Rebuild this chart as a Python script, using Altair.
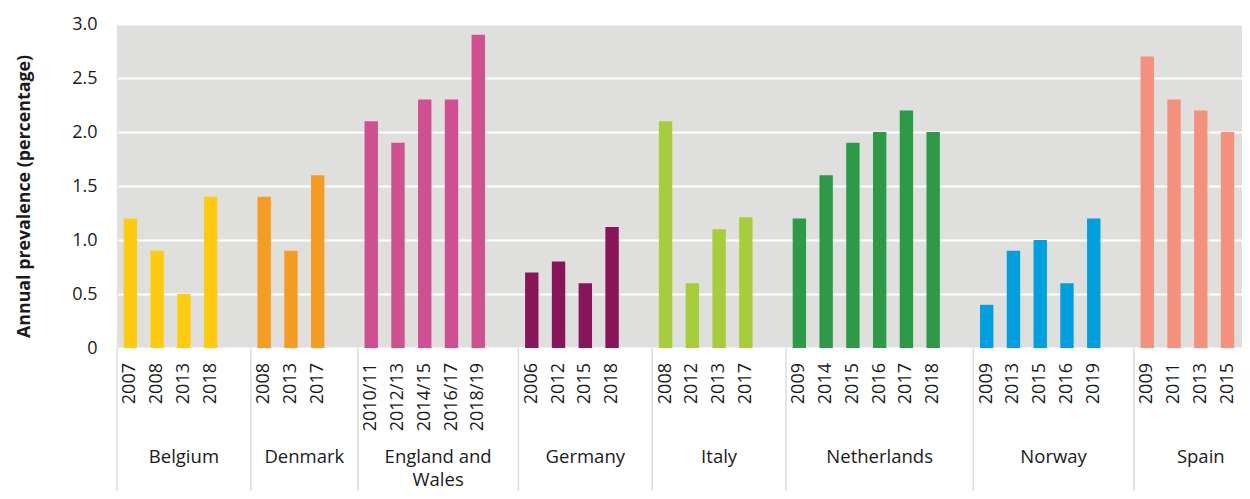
import altair as alt
import pandas as pd

countries = ["Belgium", "Denmark", "England and Wales", "Germany", "Italy",
             "Netherlands", "Norway", "Spain"]
country_labels = ["Belgium", "Denmark", "England and\nWales", "Germany", "Italy",
                  "Netherlands", "Norway", "Spain"]
years = [
    ["2007", "2008", "2013", "2018"],
    ["2008", "2013", "2017"],
    ["2010/11", "2012/13", "2014/15", "2016/17", "2018/19"],
    ["2006", "2012", "2015", "2018"],
    ["2008", "2012", "2013", "2017"],
    ["2009", "2014", "2015", "2016", "2017", "2018"],
    ["2009", "2013", "2015", "2016", "2019"],
    ["2009", "2011", "2013", "2015", "2017"],
]
values = [
    [1.2, 0.9, 0.5, 1.4],
    [1.4, 0.9, 1.6],
    [2.1, 1.9, 2.3, 2.3, 2.9],
    [0.7, 0.8, 0.6, 1.12],
    [2.1, 0.6, 1.1, 1.21],
    [1.2, 1.6, 1.9, 2.0, 2.2, 2.0],
    [0.4, 0.9, 1.0, 0.6, 1.2],
    [2.7, 2.3, 2.2, 2.0, 2.2],
]
colors = ["#fecb0f", "#f59c22", "#d04f91", "#88155a", "#a7cd3b",
          "#2d9a47", "#009fdf", "#f4907b"]
y_ticks = [0, 0.5, 1.0, 1.5, 2.0, 2.5, 3.0]

# build tables: one slot per bar, plus one empty slot after each group
bar_rows, group_rows = [], []
slot = 0
for gi, (c, lab, ys, vs) in enumerate(zip(countries, country_labels, years, values)):
    start = slot
    for y, v in zip(ys, vs):
        bar_rows.append({"country": c, "year": y, "value": v, "slot": slot})
        slot += 1
    if gi < len(countries) - 1:
        slot += 1
    group_rows.append({"country": c, "label": lab, "start": start, "end": slot})
bars_df = pd.DataFrame(bar_rows)
groups_df = pd.DataFrame(group_rows)

SLOT_PX = 26.76
PLOT_W, PLOT_H = 1125, 324
xscale = alt.Scale(domain=[0, PLOT_W / SLOT_PX], nice=False, zero=False)
FONT = "Open Sans"

base = alt.Chart(bars_df)

bars = base.transform_calculate(
    x0="datum.slot + 0.25", x1="datum.slot + 0.75"
).mark_bar(clip=True).encode(
    x=alt.X("x0:Q", scale=xscale, axis=None),
    x2="x1:Q",
    y=alt.Y("value:Q",
            scale=alt.Scale(domain=[0, 3], nice=False),
            axis=alt.Axis(values=y_ticks,
                          labelExpr="datum.value == 0 ? '0' : format(datum.value, '.1f')",
                          title="Annual prevalence (percentage)",
                          titleFont=FONT, titleFontSize=17.8, titleFontWeight="bold",
                          titleColor="#1a1a1a",
                          titleAngle=270, titleX=-88, titleY=172,
                          titleAlign="center", titleBaseline="alphabetic",
                          labelFont=FONT, labelFontSize=18, labelColor="#1a1a1a",
                          labelPadding=20, ticks=False, domain=True,
                          domainColor="#e4e4e4", domainWidth=1.5,
                          grid=True, gridColor="#ffffff", gridWidth=2)),
    y2=alt.datum(0),
    color=alt.Color("country:N", scale=alt.Scale(domain=countries, range=colors),
                    legend=None),
)

year_text = base.transform_calculate(
    xc="datum.slot + 0.5"
).mark_text(angle=270, align="right", baseline="middle", font=FONT,
            fontSize=18, color="#1a1a1a").encode(
    x=alt.X("xc:Q", scale=xscale, axis=None),
    y=alt.value(PLOT_H + 15),
    text="year:N",
)

gbase = alt.Chart(groups_df)
separators = gbase.mark_rule(color="#dcdcdc", strokeWidth=1.5).encode(
    x=alt.X("start:Q", scale=xscale, axis=None),
    y=alt.value(PLOT_H),
    y2=alt.value(PLOT_H + 170),
)

country_text = gbase.transform_calculate(
    xc="(datum.start + datum.end) / 2",
    lines="split(datum.label, '\\n')",
).mark_text(baseline="alphabetic", align="center", font=FONT, fontSize=18.5,
            color="#1a1a1a", lineHeight=23).encode(
    x=alt.X("xc:Q", scale=xscale, axis=None),
    y=alt.value(PLOT_H + 115),
    text="lines:N",
)

chart = alt.layer(bars, separators, year_text, country_text).properties(
    width=PLOT_W, height=PLOT_H,
    autosize=alt.AutoSizeParams(type="none"),
    padding={"left": 109, "top": 16, "right": 0, "bottom": 143},
    background="#ffffff",
).configure_view(fill="#dfe0dd", stroke="transparent")

chart.save("out.html", embed_options={"renderer": "svg", "actions": False})
